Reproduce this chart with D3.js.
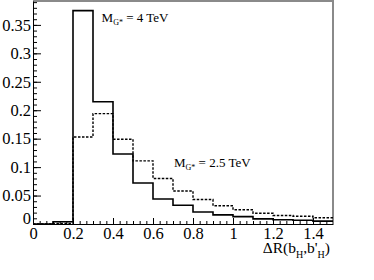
<!DOCTYPE html>
<html>
<head>
<meta charset="utf-8">
<script src="https://cdn.jsdelivr.net/npm/d3@7"></script>
<style>
  body { margin: 0; background: #fff; }
  svg { display: block; font-family: "Liberation Serif", "DejaVu Serif", serif; }
</style>
</head>
<body>
<svg id="chart" width="374" height="280"></svg>
<script>
// bin lower edges of dR(bH, b'H), width 0.1
var binEdges = [0, 0.1, 0.2, 0.3, 0.4, 0.5, 0.6, 0.7, 0.8, 0.9, 1.0, 1.1, 1.2, 1.3, 1.4, 1.5];
// normalised histograms
var mass4TeV = [0, 0.004, 0.375, 0.215, 0.123, 0.072, 0.044, 0.033, 0.021, 0.016, 0.013, 0.009, 0.0075, 0.0065, 0.005];
var mass25TeV = [0, 0.001, 0.153, 0.194, 0.149, 0.111, 0.080, 0.058, 0.043, 0.032, 0.025, 0.019, 0.015, 0.0135, 0.011];
var yTicks = [0, 0.05, 0.1, 0.15, 0.2, 0.25, 0.3, 0.35];
var xTicks = [0, 0.2, 0.4, 0.6, 0.8, 1, 1.2, 1.4];

var svg = d3.select("#chart"),
    margin = {top: 1, right: 41, bottom: 56, left: 33},
    width = +svg.attr("width") - margin.left - margin.right,
    height = +svg.attr("height") - margin.top - margin.bottom;

var x = d3.scaleLinear().domain([0, 1.5]).range([0, width]),
    y = d3.scaleLinear().domain([0, 0.392]).range([height, 0]);

var g = svg.append("g")
    .attr("transform", "translate(" + margin.left + "," + margin.top + ")");

// frame (top/right grey)
g.append("path")
    .attr("d", "M0,0H" + width + "V" + height)
    .attr("fill", "none")
    .attr("stroke", "#8a8a8a")
    .attr("stroke-width", 2);

// histograms
function stepPoints(vals) {
  var pts = vals.map(function (v, i) { return [binEdges[i], v]; });
  pts.push([binEdges[vals.length], vals[vals.length - 1]]);
  return pts;
}
var line = d3.line()
    .x(function (d) { return x(d[0]); })
    .y(function (d) { return y(d[1]); })
    .curve(d3.curveStepAfter);

g.append("path")
    .datum(stepPoints(mass25TeV))
    .attr("d", line)
    .attr("fill", "none")
    .attr("stroke", "#000")
    .attr("stroke-width", 1.4)
    .attr("stroke-dasharray", "2.5,1.5");

g.append("path")
    .datum(stepPoints(mass4TeV))
    .attr("d", line)
    .attr("fill", "none")
    .attr("stroke", "#000")
    .attr("stroke-width", 1.6);

// y axis
var yMinor = d3.range(0, 0.391, 0.01);
g.append("g")
    .attr("class", "axis axis--y-minor")
    .call(d3.axisLeft(y).tickValues(yMinor).tickSize(-4).tickFormat(""))
    .call(function (s) { s.select(".domain").remove(); });

var yAxis = g.append("g")
    .attr("class", "axis axis--y")
    .call(d3.axisLeft(y).tickValues(yTicks).tickSize(-8).tickSizeOuter(0)
      .tickPadding(2).tickFormat(d3.format("")));

// x axis
var xMinor = d3.range(0, 1.5, 0.2 / 6);
g.append("g")
    .attr("class", "axis axis--x-minor")
    .attr("transform", "translate(0," + height + ")")
    .call(d3.axisBottom(x).tickValues(xMinor).tickSize(-3).tickFormat(""))
    .call(function (s) { s.select(".domain").remove(); });

var xAxis = g.append("g")
    .attr("class", "axis axis--x")
    .attr("transform", "translate(0," + height + ")")
    .call(d3.axisBottom(x).tickValues(xTicks).tickSize(-6).tickSizeOuter(0)
      .tickPadding(3).tickFormat(d3.format("")));

svg.selectAll(".axis text")
    .attr("font-family", "Liberation Serif, serif")
    .attr("font-size", 16.5)
    .attr("fill", "#000");
svg.selectAll(".axis line, .axis path")
    .attr("stroke", "#000");

// lift the y "0" label like the original
yAxis.selectAll(".tick text")
    .filter(function (d) { return d === 0; })
    .attr("dy", "-0.05em");

// x axis title
var title = svg.append("text")
    .attr("x", margin.left + width - 3)
    .attr("y", 253)
    .attr("text-anchor", "end")
    .attr("font-size", 15.5);
title.append("tspan").text("\u0394R(b");
title.append("tspan").attr("font-size", 10).attr("dy", 5).text("H");
title.append("tspan").attr("dy", -5).text(",b'");
title.append("tspan").attr("font-size", 10).attr("dy", 5).text("H");
title.append("tspan").attr("dy", -5).text(")");

// annotations
function massLabel(xv, yv, txt) {
  var t = svg.append("text")
      .attr("x", margin.left + x(xv))
      .attr("y", margin.top + y(yv))
      .attr("font-size", 13);
  t.append("tspan").text("M");
  t.append("tspan").attr("font-size", 8).attr("dy", 3).text("G*");
  t.append("tspan").attr("dy", -3).text(" = " + txt);
}
massLabel(0.343, 0.355, "4 TeV");
massLabel(0.705, 0.101, "2.5 TeV");
</script>
</body>
</html>
